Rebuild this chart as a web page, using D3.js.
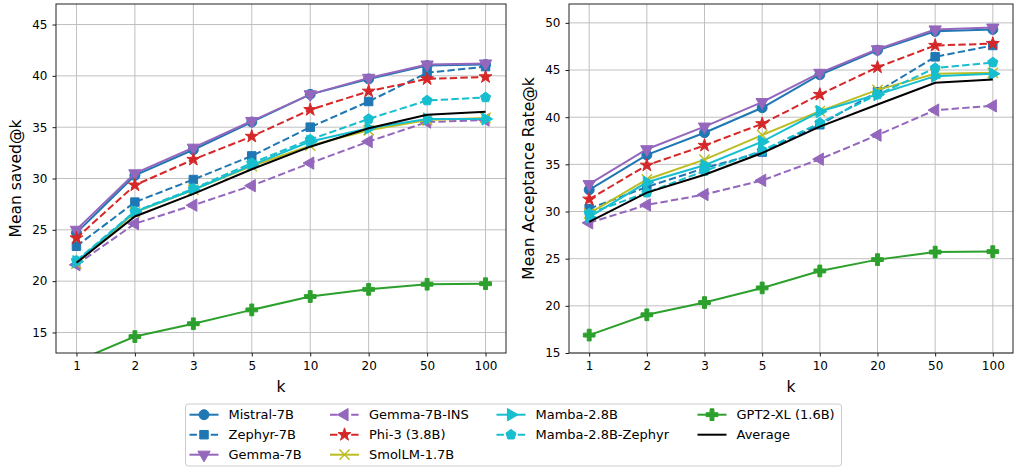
<!DOCTYPE html>
<html><head><meta charset="utf-8">
<script src="https://cdn.jsdelivr.net/npm/d3@7"></script>
<style>body{margin:0;background:#fff}svg{display:block}text{font-family:"DejaVu Sans",sans-serif;fill:#000}</style>
</head><body>
<svg id="chart" width="1014" height="469"></svg>
<script>
const kLabels = ["1","2","3","5","10","20","50","100"];
const seriesNames = ["Mistral-7B","Zephyr-7B","Gemma-7B","Gemma-7B-INS","Phi-3 (3.8B)","SmolLM-1.7B","Mamba-2.8B","Mamba-2.8B-Zephyr","GPT2-XL (1.6B)","Average"];
// Mean saved@k
const savedMistral = [24.7,30.3,32.8,35.5,38.2,39.7,41.0,41.1];
const savedZephyr  = [23.4,27.7,29.9,32.2,35.0,37.5,40.3,40.9];
const savedGemma   = [25.0,30.5,33.0,35.6,38.2,39.8,41.1,41.2];
const savedGemmaIns= [21.6,25.6,27.4,29.3,31.5,33.6,35.5,35.7];
const savedPhi3    = [24.2,29.35,31.85,34.1,36.7,38.5,39.7,39.9];
const savedSmol    = [21.7,26.7,28.9,31.2,33.2,34.7,35.7,35.9];
const savedMamba   = [21.9,26.75,28.9,31.3,33.6,34.9,35.8,35.8];
const savedMambaZ  = [22.0,26.8,29.0,31.5,33.8,35.8,37.6,37.9];
const savedGPT2    = [12.2,14.6,15.85,17.2,18.5,19.2,19.7,19.75];
const savedAvg     = [21.8,26.3,28.5,30.9,33.1,34.9,36.2,36.5];
// Mean Acceptance Rate@k
const accMistral = [32.3,36.0,38.35,41.0,44.5,47.1,49.1,49.3];
const accZephyr  = [30.3,32.6,34.6,36.3,39.2,42.7,46.4,47.6];
const accGemma   = [32.9,36.6,39.0,41.6,44.7,47.2,49.3,49.5];
const accGemmaIns= [28.8,30.7,31.8,33.3,35.55,38.1,40.75,41.2];
const accPhi3    = [31.3,34.9,37.0,39.3,42.4,45.3,47.6,47.8];
const accSmol    = [29.8,33.4,35.5,38.1,40.65,42.9,44.6,44.7];
const accMamba   = [29.4,33.1,34.9,37.4,40.6,42.4,44.35,44.6];
const accMambaZ  = [29.8,32.0,34.3,36.45,39.4,42.4,45.2,45.8];
const accGPT2    = [16.9,19.05,20.35,21.9,23.7,24.9,25.7,25.75];
const accAvg     = [28.9,32.0,33.9,36.2,39.0,41.35,43.65,44.0];
const savedTicks = [15,20,25,30,35,40,45];
const accTicks = [15,20,25,30,35,40,45,50];

const savedSeries = [savedMistral,savedZephyr,savedGemma,savedGemmaIns,savedPhi3,savedSmol,savedMamba,savedMambaZ,savedGPT2,savedAvg];
const accSeries = [accMistral,accZephyr,accGemma,accGemmaIns,accPhi3,accSmol,accMamba,accMambaZ,accGPT2,accAvg];

const styles = [
 {c:"#1f77b4",dash:false,m:"circle"},
 {c:"#1f77b4",dash:true,m:"square"},
 {c:"#9467bd",dash:false,m:"tdown"},
 {c:"#9467bd",dash:true,m:"tleft"},
 {c:"#d62728",dash:true,m:"star"},
 {c:"#bcbd22",dash:false,m:"x"},
 {c:"#17becf",dash:false,m:"tright"},
 {c:"#17becf",dash:true,m:"pentagon"},
 {c:"#2ca02c",dash:false,m:"plus"},
 {c:"#000000",dash:false,m:null}
];

function pentagonPath(r){
  const pts=[];
  for(let i=0;i<5;i++){const a=-Math.PI/2+i*2*Math.PI/5;pts.push([r*Math.cos(a),r*Math.sin(a)]);}
  return "M"+pts.map(p=>p.join(",")).join("L")+"Z";
}
function markerPath(m){
  switch(m){
    case "circle": return d3.symbol(d3.symbolCircle,78)();
    case "square": return d3.symbol(d3.symbolSquare,72)();
    case "tdown": case "tleft": case "tright": return d3.symbol(d3.symbolTriangle,66)();
    case "star": return d3.symbol(d3.symbolStar,52)();
    case "pentagon": return pentagonPath(5.3);
    case "plus": return d3.symbol(d3.symbolCross,76)();
    case "x": return d3.symbol(d3.symbolX,70)();
  }
}
function markerRot(m){return m==="tdown"?180:m==="tleft"?-90:m==="tright"?90:0;}
function drawMarker(g,m,c,x,y){
  if(!m) return;
  const p=g.append("path").attr("d",markerPath(m))
   .attr("transform",`translate(${x},${y}) rotate(${markerRot(m)})`);
  if(m==="x") p.attr("fill","none").attr("stroke",c).attr("stroke-width",1.5);
  else p.attr("fill",c).attr("stroke",c).attr("stroke-width",1);
}

const svg = d3.select("#chart");
function panel(id,box,domain,ticks,series,label,labelX){
  const x = d3.scalePoint().domain(kLabels).range([box.x0,box.x1]).padding(0.35);
  const y = d3.scaleLinear().domain(domain).range([box.y1,box.y0]);
  const g = svg.append("g");
  g.append("clipPath").attr("id",id).append("rect")
   .attr("x",box.x0).attr("y",box.y0).attr("width",box.x1-box.x0).attr("height",box.y1-box.y0);
  // grid
  g.append("g").selectAll("line").data(kLabels).join("line")
   .attr("x1",d=>x(d)).attr("x2",d=>x(d)).attr("y1",box.y0).attr("y2",box.y1)
   .attr("stroke","#c0c0c0").attr("stroke-width",1);
  g.append("g").selectAll("line").data(ticks).join("line")
   .attr("x1",box.x0).attr("x2",box.x1).attr("y1",d=>y(d)).attr("y2",d=>y(d))
   .attr("stroke","#c0c0c0").attr("stroke-width",1);
  // series
  const plot = g.append("g").attr("clip-path",`url(#${id})`);
  const line = d3.line().x((d,i)=>x(kLabels[i])).y(d=>y(d));
  series.forEach((vals,si)=>{
    const st=styles[si];
    const sg=plot.append("g");
    sg.append("path").attr("d",line(vals)).attr("fill","none").attr("stroke",st.c)
      .attr("stroke-width",2)
      .attr("stroke-dasharray",st.dash?"7.4,3.2":null);
    vals.forEach((v,i)=>drawMarker(sg,st.m,st.c,x(kLabels[i]),y(v)));
  });
  // axes
  const xa = g.append("g").attr("transform",`translate(0,${box.y1})`)
    .call(d3.axisBottom(x).tickSize(3.5).tickPadding(5));
  const ya = g.append("g").attr("transform",`translate(${box.x0},0)`)
    .call(d3.axisLeft(y).tickValues(ticks).tickSize(3.5).tickPadding(5));
  [xa,ya].forEach(a=>{a.select(".domain").remove();a.selectAll("text").style("font-size","12px").style("font-family","DejaVu Sans");a.selectAll("line").attr("stroke","#000").attr("stroke-width",0.9);});
  g.append("rect").attr("x",box.x0).attr("y",box.y0).attr("width",box.x1-box.x0).attr("height",box.y1-box.y0)
   .attr("fill","none").attr("stroke","#222").attr("stroke-width",1);
  g.append("text").attr("x",(box.x0+box.x1)/2).attr("y",392).attr("text-anchor","middle")
   .style("font-size","15.5px").text("k");
  g.append("text").attr("transform",`translate(${labelX},${(box.y0+box.y1)/2}) rotate(-90)`)
   .attr("text-anchor","middle").attr("dy","0.35em").style("font-size","15.5px").text(label);
}
panel("clipL",{x0:56,x1:506,y0:4,y1:353},[13,47],savedTicks,savedSeries,"Mean saved@k",16);
panel("clipR",{x0:569,x1:1013,y0:4,y1:353},[15,52],accTicks,accSeries,"Mean Acceptance Rate@k",529);

// legend
const lg = svg.append("g");
lg.append("rect").attr("x",185.5).attr("y",404).attr("width",656).attr("height",62).attr("rx",3)
  .attr("fill","#fff").attr("stroke","#ccc").attr("stroke-width",1);
const colX = [189.5,330,496.5,697.5];
const colCount = [3,3,2,2];
let idx=0;
colCount.forEach((n,ci)=>{
  for(let r=0;r<n;r++){
    const si=idx++;
    const st=styles[si];
    const yy=414.7+r*20;
    const hx=colX[ci];
    lg.append("line").attr("x1",hx).attr("x2",hx+29).attr("y1",yy).attr("y2",yy)
      .attr("stroke",st.c).attr("stroke-width",2).attr("stroke-dasharray",st.dash?"7.4,3.2":null);
    drawMarker(lg,st.m,st.c,hx+14.5,yy);
    lg.append("text").attr("x",hx+39).attr("y",yy).attr("dy","0.36em").style("font-size","13px").text(seriesNames[si]);
  }
});
</script>
</body></html>
